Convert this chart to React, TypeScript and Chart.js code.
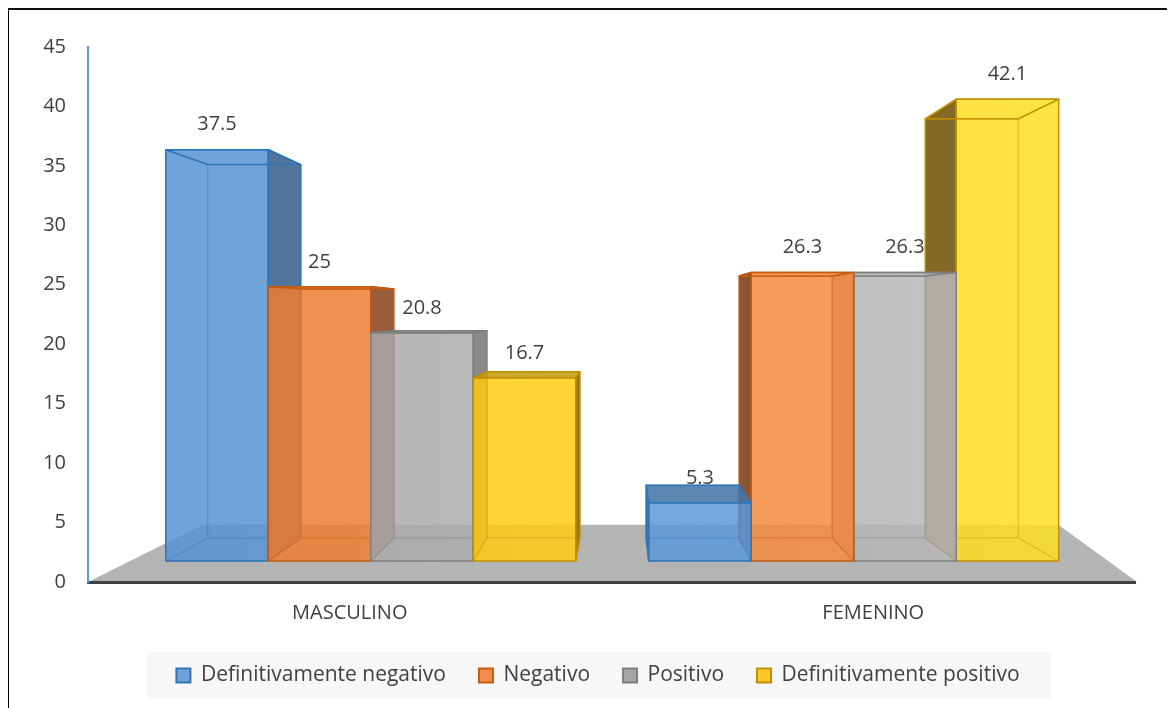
import React, { useEffect, useRef } from 'react';
import { Chart, registerables } from 'chart.js';

Chart.register(...registerables);

const FONT = '"Open Sans", "DejaVu Sans", sans-serif';
const TEXT = '#404040';

// ---- data ----
const categories = ['MASCULINO', 'FEMENINO'];
const seriesNames = ['Definitivamente negativo', 'Negativo', 'Positivo', 'Definitivamente positivo'];
const definitivamenteNegativo = [37.5, 5.3];
const negativo = [25, 26.3];
const positivo = [20.8, 26.3];
const definitivamentePositivo = [16.7, 42.1];
const seriesValues = [definitivamenteNegativo, negativo, positivo, definitivamentePositivo];
const yTickValues = [0, 5, 10, 15, 20, 25, 30, 35, 40, 45];

// ---- styles ----
const frontColors = [
  ['#6FA3D7', '#76ACE2'],
  ['#EE8B4C', '#FBA363'],
  ['#B0B0B0', '#C6C6C6'],
  ['#FFC62A', '#FFE746'],
];
const sideColors = [
  ['#54799D', '#46698F'],
  ['#A4653F', '#764A2E'],
  ['#808080', '#9C9A92'],
  ['#A48312', '#7A6328'],
];
const edgeColors = ['#2E75B6', '#C55A11', '#7F7F7F', '#BF9000'];
const legendFill = ['#70A3D8', '#EF8C4E', '#A5A5A5', '#FFC72C'];

// perspective parameters (fractions of the chart area)
const VP_X = 0.509;
const VP_Y = 0.4934;
const FRONT_S = 0.9225;
const BACK_S = 0.8375;
const FLOOR_CX = 0.6;
const FLOOR_SX = 0.817;
const FLOOR_SY = 0.789;
const FACE_ALPHA = 0.85;

function hexRgb(h: string) {
  const n = parseInt(h.slice(1), 16);
  return [(n >> 16) & 255, (n >> 8) & 255, n & 255];
}
function comp(h: string, a: number) {
  const c = hexRgb(h).map((v) => Math.max(0, Math.min(255, Math.round((v - 255 * (1 - a)) / a))));
  return `rgba(${c[0]},${c[1]},${c[2]},${a})`;
}

function poly(ctx: CanvasRenderingContext2D, pts: number[][]) {
  ctx.beginPath();
  ctx.moveTo(pts[0][0], pts[0][1]);
  for (let i = 1; i < pts.length; i++) ctx.lineTo(pts[i][0], pts[i][1]);
  ctx.closePath();
}

const bars3d = {
  id: 'bars3d',
  beforeDraw(chart: any) {
    const { ctx, chartArea: a } = chart;
    const vy = a.top + (a.bottom - a.top) * VP_Y;
    const fcx = a.left + (a.right - a.left) * FLOOR_CX;
    const by = vy + (a.bottom - vy) * FLOOR_SY;
    const bl = fcx + (a.left - fcx) * FLOOR_SX;
    const br = fcx + (a.right - fcx) * FLOOR_SX;
    ctx.save();
    ctx.fillStyle = '#B4B4B4';
    poly(ctx, [[a.left, a.bottom], [a.right + 2, a.bottom], [br, by], [bl, by]]);
    ctx.fill();

    const lg = chart.legend;
    if (lg) {
      const lo = lg.options.labels;
      const fs = lo.font.size;
      ctx.font = `${fs}px ${FONT}`;
      let W = 0;
      seriesNames.forEach((n, i) => {
        W += lo.boxWidth + fs / 2 + ctx.measureText(n).width;
        if (i > 0) W += lo.padding;
      });
      const cx = (lg.left + lg.right) / 2;
      const cy = lg.top + lo.padding + fs / 2;
      ctx.fillStyle = '#F7F7F7';
      ctx.fillRect(cx - W / 2 - 30, cy - 23, W + 61, 46);
    }
    ctx.restore();
  },
  beforeDatasetsDraw(chart: any) {
    const { ctx, chartArea: a } = chart;
    const vx = a.left + (a.right - a.left) * VP_X;
    const vy = a.top + (a.bottom - a.top) * VP_Y;
    const P = (x: number, s: number) => vx + (x - vx) * s;
    const Q = (y: number, s: number) => vy + (y - vy) * s;

    const mk = (cols: string[][], fn: (c: string) => string) =>
      cols.map((pair) => {
        const g = ctx.createLinearGradient(a.left, 0, a.right, 0);
        g.addColorStop(0, fn(pair[0]));
        g.addColorStop(1, fn(pair[1]));
        return g;
      });
    const frontG = mk(frontColors, (c) => comp(c, FACE_ALPHA));
    const sideG = mk(sideColors, (c) => c);

    const items: any[] = [];
    chart.data.datasets.forEach((ds: any, di: number) => {
      const meta = chart.getDatasetMeta(di);
      meta.data.forEach((el: any, i: number) => {
        const { x, y, base, width } = el.getProps(['x', 'y', 'base', 'width'], true);
        const L = x - width / 2;
        const R = x + width / 2;
        const f = { l: P(L, FRONT_S), r: P(R, FRONT_S), t: Q(y, FRONT_S), b: Q(base, FRONT_S) };
        const k = { l: P(L, BACK_S), r: P(R, BACK_S), t: Q(y, BACK_S), b: Q(base, BACK_S) };
        items.push({ di, i, f, k, v: ds.data[i] });
      });
    });
    items.sort(
      (p, q) => Math.abs((q.f.l + q.f.r) / 2 - vx) - Math.abs((p.f.l + p.f.r) / 2 - vx)
    );

    ctx.save();
    ctx.lineJoin = 'round';
    for (const it of items) {
      const { f, k, di } = it;
      const edge = edgeColors[di];
      ctx.strokeStyle = edge;
      ctx.lineWidth = 1.5;
      let side: number[][] | null = null;
      if (k.r > f.r + 0.5) side = [[f.r, f.t], [k.r, k.t], [k.r, k.b], [f.r, f.b]];
      else if (k.l < f.l - 0.5) side = [[f.l, f.t], [k.l, k.t], [k.l, k.b], [f.l, f.b]];
      if (side) {
        poly(ctx, side);
        ctx.fillStyle = sideG[di];
        ctx.fill();
      }
      const topPts = [[f.l, f.t], [f.r, f.t], [k.r, k.t], [k.l, k.t]];
      if (f.t > k.t) {
        poly(ctx, topPts);
        ctx.fillStyle = frontG[di];
        ctx.fill();
        ctx.fillStyle = 'rgba(0,0,0,0.2)';
        ctx.fill();
      }
      ctx.fillStyle = frontG[di];
      ctx.fillRect(f.l, f.t, f.r - f.l, f.b - f.t);
      ctx.globalAlpha = 0.4;
      ctx.lineWidth = 1.3;
      ctx.beginPath();
      ctx.moveTo(k.l, k.t); ctx.lineTo(k.l, k.b); ctx.lineTo(k.r, k.b); ctx.lineTo(k.r, k.t); ctx.lineTo(k.l, k.t);
      ctx.moveTo(f.l, f.b); ctx.lineTo(k.l, k.b);
      ctx.moveTo(f.r, f.b); ctx.lineTo(k.r, k.b);
      ctx.stroke();
      ctx.globalAlpha = 1;
      ctx.lineWidth = 1.5;
      if (side) { poly(ctx, side); ctx.stroke(); }
      poly(ctx, topPts);
      ctx.stroke();
      ctx.strokeRect(f.l, f.t, f.r - f.l, f.b - f.t);
    }
    ctx.fillStyle = TEXT;
    ctx.font = `20px ${FONT}`;
    ctx.textAlign = 'center';
    ctx.textBaseline = 'middle';
    for (const it of items) {
      ctx.fillText(String(it.v), (it.f.l + it.f.r) / 2, it.f.t - 25);
    }
    ctx.restore();
    return false;
  },
};

export default function App() {
  const ref = useRef<HTMLCanvasElement>(null);
  useEffect(() => {
    document.documentElement.style.overflow = 'hidden';
    const chart = new Chart(ref.current as HTMLCanvasElement, {
      type: 'bar',
      data: {
        labels: categories,
        datasets: seriesNames.map((name, i) => ({
          label: name,
          data: seriesValues[i],
          backgroundColor: legendFill[i],
          borderColor: edgeColors[i],
          borderWidth: 2,
          categoryPercentage: 0.849,
          barPercentage: 1,
        })),
      },
      options: {
        responsive: false,
        animation: false,
        layout: { padding: { left: 53, right: 40, top: 39, bottom: 12 } },
        plugins: {
          legend: {
            position: 'bottom',
            labels: {
              boxWidth: 14,
              boxHeight: 14,
              padding: 33,
              color: TEXT,
              font: { family: FONT, size: 21 },
            },
          },
          tooltip: { enabled: false },
        },
        scales: {
          x: {
            grid: { display: false },
            border: { display: true, color: '#404040', width: 3 },
            ticks: { color: TEXT, font: { family: FONT, size: 20 }, padding: 11 },
            afterFit: (s: any) => { s.height = 50; },
          },
          y: {
            min: 0,
            max: 45,
            grid: { display: false },
            border: { display: true, color: '#5B9BD5', width: 2 },
            ticks: { color: TEXT, font: { family: FONT, size: 20 }, padding: 14 },
            afterBuildTicks: (s: any) => { s.ticks = yTickValues.map((v) => ({ value: v })); },
            afterFit: (s: any) => {
              s.width = 27;
              s._computeLabelArea = () => undefined;
            },
          },
        },
      } as any,
      plugins: [bars3d as any],
    });
    return () => chart.destroy();
  }, []);
  return (
    <div style={{ position: 'relative', width: 1167, height: 700 }}>
      <canvas ref={ref} width={1167} height={700} style={{ display: 'block' }} />
      <div
        style={{
          position: 'absolute',
          left: -1,
          top: 0,
          width: 1168,
          height: 700,
          borderLeft: '2px solid #000',
          borderTop: '2px solid #111',
          boxSizing: 'border-box',
          pointerEvents: 'none',
        }}
      />
    </div>
  );
}
